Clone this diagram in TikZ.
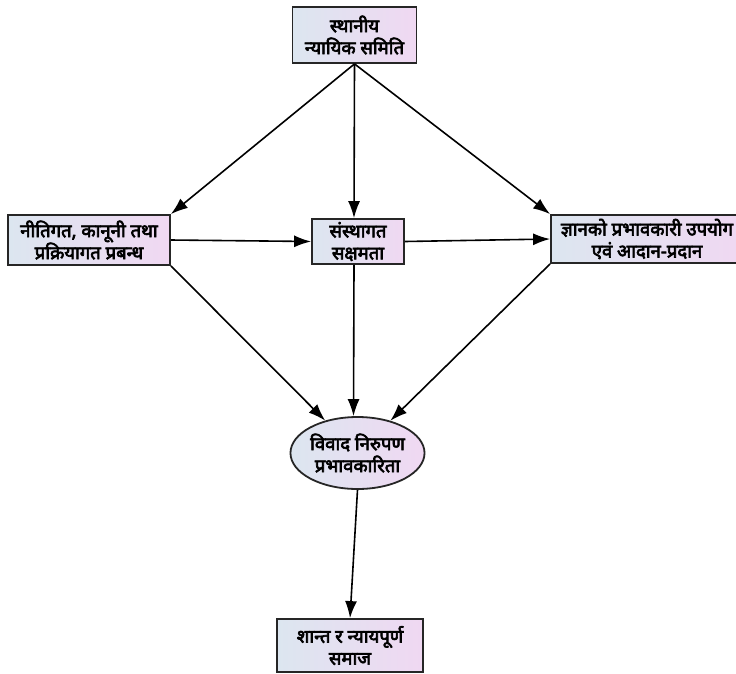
\documentclass[tikz,border=0pt]{standalone}
\usepackage{fontspec}
\newfontfamily\dev[Script=Devanagari,FakeBold=3.5]{Noto Sans}
\usetikzlibrary{arrows.meta,shapes.geometric}
\definecolor{lc}{RGB}{220,230,240}
\definecolor{rc}{RGB}{240,216,242}
\tikzset{
  box/.style={draw=black!85, line width=1.8pt, left color=lc, right color=rc,
    align=center, inner sep=0pt, font=\dev\fontsize{18.5}{22}\selectfont},
  ell/.style={box, ellipse},
  arr/.style={line width=1.6pt, -{Latex[length=17pt,width=12pt]}}
}
\begin{document}
\begin{tikzpicture}[x=1pt,y=-1pt]
\useasboundingbox (0,0) rectangle (736,673);
\node[box, minimum width=124pt, minimum height=56pt] (top) at (354.5,35) {स्थानीय\\न्यायिक समिति};
\node[box, minimum width=162pt, minimum height=50pt] (left) at (89,240) {नीतिगत, कानूनी तथा\\प्रक्रियागत प्रबन्ध};
\node[box, minimum width=92pt, minimum height=45pt] (mid) at (358,241.5) {संस्थागत\\सक्षमता};
\node[box, minimum width=192pt, minimum height=48pt] (right) at (647,239) {ज्ञानको प्रभावकारी उपयोग\\एवं आदान-प्रदान};
\node[ell, minimum width=133pt, minimum height=72pt] (ev) at (357.5,453) {विवाद निरुपण\\प्रभावकारिता};
\node[box, minimum width=146pt, minimum height=53pt] (bot) at (350,645.5) {शान्त र न्यायपूर्ण\\समाज};
\draw[arr] (top.south) -- (left.north east);
\draw[arr] (top.south) -- ([xshift=-4pt]mid.north);
\draw[arr] (top.south) -- (right.north west);
\draw[arr] (left.east) -- (mid.west);
\draw[arr] (mid.east) -- (right.west);
\draw[arr] (left.south east) -- (ev);
\draw[arr] ([xshift=-4pt]mid.south) -- ([xshift=-4pt]ev.north);
\draw[arr] (right.south west) -- (ev);
\draw[arr] (ev.south) -- (bot.north);
\end{tikzpicture}
\end{document}
